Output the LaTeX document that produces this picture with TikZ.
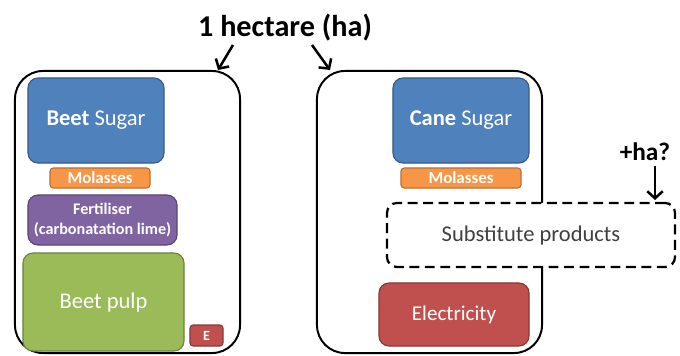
\documentclass[tikz,border=0pt]{standalone}
\usepackage{fontspec}
\setmainfont{Carlito}
\usepackage{tikz}
\usetikzlibrary{arrows,arrows.meta,shapes,positioning}
\definecolor{sblue}{HTML}{4F81BD}
\definecolor{sorange}{HTML}{F79646}
\definecolor{spurple}{HTML}{8064A2}
\definecolor{sgreen}{HTML}{9BBB59}
\definecolor{sred}{HTML}{C0504D}
\tikzstyle{arrow}=[draw,-{Straight Barb[length=5pt,width=11pt]},line width=1.8pt]
\tikzstyle{area}=[draw,line width=1.4pt,rounded corners=0.7cm,minimum width=5.625cm,minimum height=7.05cm]
\tikzstyle{prod}=[rectangle,rounded corners=0.25cm,text=white,line width=0.8pt,align=center,inner sep=1pt]

\begin{document}
\begin{tikzpicture}[x=0.025cm,y=-0.025cm]
\useasboundingbox (0,0) rectangle (680,356);
\node [font=\fontsize{21.5}{25}\selectfont\bfseries] (title) at (285,28) {1 hectare (ha)};
\node [area] (lbox) at (127.5,212) {};
\node [area] (rbox) at (429.5,212) {};
\coordinate (la) at (233,45);
\coordinate (lb) at (218,70);
\coordinate (ra) at (312,45);
\coordinate (rb) at (330,70);

\node [prod,fill=sblue,draw=sblue!70!black,minimum width=3.4cm,minimum height=2.125cm,font=\fontsize{16}{19}\selectfont] (beet) at (96,120.5) {{\bfseries Beet} Sugar};
\node [prod,fill=sorange,draw=sorange!75!black,minimum width=2.5cm,minimum height=0.5cm,rounded corners=0.08cm,font=\fontsize{12}{14}\selectfont\bfseries] (lmol) at (100,178) {Molasses};
\node [prod,fill=spurple,draw=spurple!70!black,minimum width=3.725cm,minimum height=1.25cm,font=\fontsize{11.5}{14}\selectfont\bfseries] (fert) at (102.5,220) {Fertiliser\\(carbonatation lime)};
\node [prod,fill=sgreen,draw=sgreen!70!black,minimum width=4.025cm,minimum height=2.45cm,font=\fontsize{16}{19}\selectfont] (pulp) at (103.5,302) {Beet pulp};
\node [prod,fill=sred,draw=sred!70!black,minimum width=0.825cm,minimum height=0.525cm,rounded corners=0.08cm,font=\fontsize{10}{12}\selectfont\bfseries] (e) at (206.5,335.5) {E};

\node [prod,fill=sblue,draw=sblue!70!black,minimum width=3.4cm,minimum height=2.125cm,font=\fontsize{16}{19}\selectfont] (cane) at (461,120.5) {{\bfseries Cane} Sugar};
\node [prod,fill=sorange,draw=sorange!75!black,minimum width=3cm,minimum height=0.5cm,rounded corners=0.08cm,font=\fontsize{12}{14}\selectfont\bfseries] (rmol) at (461,178) {Molasses};
\node [prod,fill=sred,draw=sred!70!black,minimum width=3.75cm,minimum height=1.575cm,font=\fontsize{15}{18}\selectfont] (elec) at (454,314.5) {Electricity};

\node [draw,fill=white,line width=1.6pt,dash pattern=on 7pt off 4pt,rounded corners=0.25cm,minimum width=7.2cm,minimum height=1.6cm,text=black!75,font=\fontsize{16}{19}\selectfont] (subst) at (531,235) {Substitute products};
\node [font=\fontsize{18}{21}\selectfont\bfseries] (extra) at (645,152) {+ha?};
\coordinate (hb) at (655,200);

\draw [arrow] (la) -- (lb);
\draw [arrow] (ra) -- (rb);
\draw [arrow] (extra.south -| hb) -- (hb);
\end{tikzpicture}
\end{document}
